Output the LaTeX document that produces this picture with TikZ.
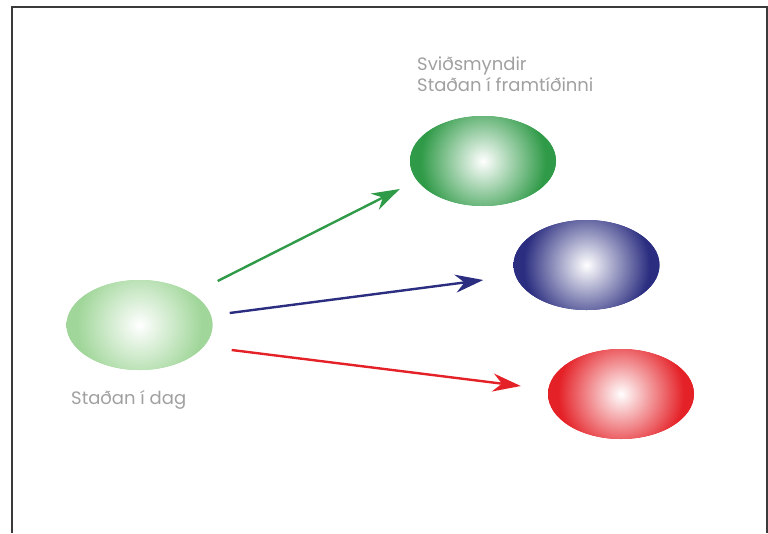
\documentclass[tikz,border=0pt]{standalone}
\usepackage{fontspec}
\setmainfont{Poppins}
\usetikzlibrary{shapes.geometric,arrows.meta,calc}
\definecolor{palegreen}{HTML}{A0D699}
\definecolor{darkgreen}{HTML}{2F9A47}
\definecolor{navy}{HTML}{2B2E80}
\definecolor{brightred}{HTML}{E42127}
\definecolor{textgray}{HTML}{A0A0A0}
\definecolor{framegray}{HTML}{3A3A3A}
\newcommand\blobshading[1]{\pgfdeclareradialshading{blob#1}{\pgfpoint{0bp}{0bp}}%
  {color(0bp)=(white); color(21bp)=(#1); color(50bp)=(#1)}}
\blobshading{palegreen}
\blobshading{darkgreen}
\blobshading{navy}
\blobshading{brightred}

\begin{document}
\begin{tikzpicture}
 [x=1pt, y=-1pt,
  blob/.style={ellipse, minimum width=146pt, minimum height=90pt, inner sep=0pt,
    fill=#1,
    path picture={\shade[shading=blob#1]
      (path picture bounding box.center) circle (75pt);}},
  arr/.style={line width=2.4pt, draw=#1, fill=#1,
    -{Stealth[length=28pt, width=18pt, inset=9pt]}},
  lbl/.style={text=textgray, font=\fontsize{18}{21}\selectfont, inner sep=0pt}]

  \useasboundingbox (0,0) rectangle (768,533);
  \draw[line width=2pt, draw=framegray] (12,533) |- (766.5,6.5) -- (766.5,533);

  \node[blob=palegreen] at (139.5,325) (today) {};
  \node[lbl, anchor=base west] at (71,404) (todaytxt) {Staðan í dag};

  \foreach \n/\p/\c in {scenA/{(483,161)}/darkgreen, scenB/{(586.5,265)}/navy,
                        scenC/{(621,394)}/brightred}
    \node[blob=\c] at \p (\n) {};

  \node[lbl, anchor=north west, align=left] at (417,57) (scentxt)
    {Sviðsmyndir\\Staðan í framtíðinni};

  \draw[arr=darkgreen] ($(today.east)+(5,-44)$) -- ($(scenA.west)+(-10,28)$);
  \draw[arr=navy]      ($(today.east)+(17,-12)$) -- ($(scenB.west)+(-30,15)$);
  \draw[arr=brightred] ($(today.east)+(19,25)$) -- ($(scenC.west)+(-27,-8)$);
\end{tikzpicture}
\end{document}
